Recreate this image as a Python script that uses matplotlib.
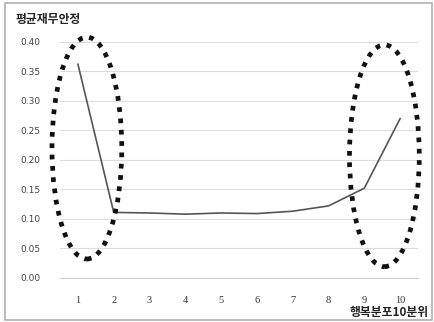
import matplotlib

matplotlib.use("Agg")
import matplotlib.pyplot as plt
from matplotlib.patches import Ellipse, Rectangle

plt.rcParams["font.family"] = ["Noto Sans CJK KR", "DejaVu Sans"]

deciles = [1, 2, 3, 4, 5, 6, 7, 8, 9, 10]
values = [0.362, 0.111, 0.110, 0.108, 0.110, 0.109, 0.113, 0.122, 0.152, 0.270]
yticks = [0.00, 0.05, 0.10, 0.15, 0.20, 0.25, 0.30, 0.35, 0.40]
ylabel = "평균재무안정"
xlabel = "행복분포10분위"

fig = plt.figure(figsize=(4.35, 3.22), dpi=100)
ax = fig.add_axes([0.138, 0.137, 0.823, 0.733])

# outer chart frame
fig.add_artist(Rectangle((0.012, 0.005), 0.98, 0.985, transform=fig.transFigure,
                         fill=False, edgecolor="#b0b0b0", linewidth=1.2))

ax.plot(deciles, values, color="#555555", linewidth=1.2, zorder=3)

ax.set_xlim(0.5, 10.5)
ax.set_ylim(0, 0.40)
ax.set_yticks(yticks)
ax.set_yticklabels([f"{v:.2f}" for v in yticks], fontsize=6.5, color="#444444",
                   family=["DejaVu Sans"])
ax.set_xticks(deciles)
ax.set_xticklabels([str(d) for d in deciles], fontsize=7.5, color="#333333",
                   family=["Liberation Serif"])
ax.tick_params(axis="both", length=0)
ax.tick_params(axis="y", pad=14)
ax.tick_params(axis="x", pad=13)
ax.grid(axis="y", color="#dddddd", linewidth=0.8)
ax.set_axisbelow(True)
for s in ("top", "right", "left"):
    ax.spines[s].set_visible(False)
ax.spines["bottom"].set_color("#cccccc")

# dotted ellipses highlighting both ends
for cx, cy in ((1.25, 0.220), (9.56, 0.207)):
    ax.add_patch(Ellipse((cx, cy), 1.95, 0.376, fill=False, edgecolor="#111111",
                         linewidth=3.4, linestyle=(0, (1, 1.4)),
                         capstyle="butt", clip_on=False, zorder=4))

fig.text(0.035, 0.94, ylabel, fontsize=8.5, weight="bold", color="#222222",
         ha="left", va="center")
fig.text(0.985, 0.03, xlabel, fontsize=8.5, weight="bold", color="#222222",
         ha="right", va="center")

fig.savefig("out.png", dpi=100)
